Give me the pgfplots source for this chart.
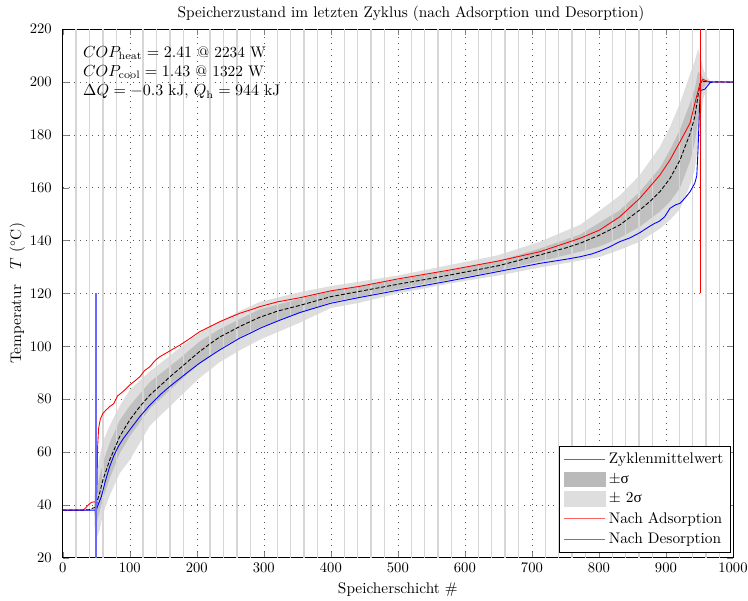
\documentclass[border=0pt]{standalone}
\usepackage{fontspec}
\newfontfamily\grk{Liberation Serif}
\usepackage{pgfplots}
\pgfplotsset{compat=1.18}
\usepgfplotslibrary{fillbetween}
\usepackage{pgfplotstable}
\definecolor{sepgray}{RGB}{214,214,214}
\definecolor{lblue}{RGB}{105,105,255}
\definecolor{lred}{RGB}{255,100,100}
\definecolor{lgrayleg}{RGB}{110,110,110}
\definecolor{band1}{RGB}{192,192,192}
\definecolor{band2}{RGB}{222,222,222}
\pgfplotsset{myarea/.style={legend image code/.code={\fill[#1] (0cm,-0.17cm) rectangle (1cm,0.17cm);}}}
\newcommand{\bigf}{\fontsize{10.5}{12.6}\selectfont}

\pgfplotstableread{
x m
0 38
30 38
40 38.2
45 38.8
48 39
50 39.5
52 42
55 44.5
60 49.5
70 57
85 65.9
100 72.2
115 77.2
130 81.6
145 85
160 88.5
175 91.7
190 95
204 98
220 101
234 103.5
250 105.6
264 107.5
280 109.4
294 111
320 113.3
354 115.5
400 118.8
443 120.8
500 123.5
550 125.7
578 127
650 130.5
712 134.6
750 137.2
772 139
801 142.1
831 145.9
861 151.6
876 154.8
891 158.5
906 163.5
921 170.5
936 180.5
943 186.8
948 195
951 199.5
955 200.3
960 200.1
1000 200
}\meantab

\pgfplotstableread{
x d1lo d1hi d2lo d2hi
47 37 40 33 43
50 33 44 27 50
55 37.5 51 30.5 58.5
60 42.5 56 36.5 64
70 50 63.5 43.5 70
85 59.5 72 52 77.5
100 66 77.5 57 83.5
130 76.5 86.5 70 90.5
175 87 95.5 81 99.5
204 93.6 101.8 88 105
234 99 106.5 94 109.5
264 103.5 110.3 98.5 113.3
294 107.2 114 102.5 116.8
354 112.5 118 109 120.5
400 116.8 120.8 114.5 122.8
443 118.8 122.7 116.5 124.5
500 121.8 125.2 120 126.8
578 125.3 128.7 123.8 130.8
650 128.7 132.3 126.8 134.5
712 132.2 137 129.8 139.6
772 135.8 142.3 132.5 146
801 137.8 146.8 133.8 151.3
831 141 151.5 136.5 157
861 145.3 158.5 139.6 164.8
891 151 167.5 144.5 175.5
906 154.7 174.3 147.8 183
921 160 182 152 192
936 170 192 161 203
943 177 197.5 167 208
948 186 204 176 212.5
952 194.5 203 187 209
956 198 201.5 194 204.5
962 199.5 200.5 198.5 201.5
968 200 200 200 200
1000 200 200 200 200
}\bandtab

\pgfplotstableread{
x y
0 38
30 38
34 38.8
38 40
43 41
49 41.2
51 45
52 62
53.5 69
56 72.5
60 74.7
65 76
70 77.2
76 78.3
82 81.3
88 82.5
93 83.6
100 85.4
108 87
115 88.5
122 90.8
130 92.3
138 94.7
145 96.1
160 98.3
175 100.5
190 103
204 105.5
220 107.5
234 109.3
250 111
264 112.5
280 113.8
294 115
320 116.8
354 118.4
400 121
443 122.7
500 125.5
578 128.9
650 132.3
712 135.8
772 140.9
801 144
831 149
861 156
891 164.8
906 170.5
921 177.4
936 184.5
945 193.8
951 199.5
955 201
960 200.5
965 200
1000 200
}\adstab

\pgfplotstableread{
x y
0 38
50 38
52 39.5
55 41.5
57.7 43.2
63 48.5
70 54.5
76 58.5
82.6 62
90 65
100 68.4
115 73.4
130 77.8
145 81.6
160 84.9
175 87.9
190 90.9
204 93.6
220 96.3
234 98.6
250 101
264 103.1
280 105
294 106.8
320 109.5
354 112.8
400 116.3
443 118.5
500 121.2
578 124.8
650 128.3
712 131.4
750 132.9
772 133.9
790 135
801 136
815 137.5
831 139.6
846 141
861 143
875 145.3
883 146.5
890 147.3
898 149
906 152.2
914 153.5
921 154.1
928 156
936 158.5
943 161.7
946 164.5
948 175
950 190
951.5 196.8
958 197.3
962 198.5
966 199.8
970 200
1000 200
}\destab

\begin{document}
\begin{tikzpicture}
\begin{axis}[
  scale only axis,
  width=459pt, height=362pt,
  xmin=0, xmax=1000, ymin=20, ymax=220,
  xtick={0,100,...,1000},
  ytick={20,40,...,220},
  /pgf/number format/set thousands separator={},
  grid=major,
  major grid style={black!65, dash pattern=on 0.5pt off 3.5pt},
  title={Speicherzustand im letzten Zyklus (nach Adsorption und Desorption)},
  xlabel={Speicherschicht \#},
  ylabel={Temperatur\ \ \ $T$ (${}^\circ$C)},
  title style={yshift=-4pt, xshift=9pt, font=\bigf},
  xlabel style={yshift=-0.5pt, font=\bigf},
  ylabel style={yshift=-3.5pt, font=\bigf},
  yticklabel style={xshift=-4pt},
  legend image code/.code={\draw[#1] (0cm,0cm) -- (1cm,0cm);},
  legend cell align=left,
  legend style={at={(rel axis cs:0.996,0.01)}, anchor=south east, draw=black, fill=white, row sep=1pt, inner sep=2.5pt, font=\bigf},
]
% bands
\addplot[draw=none, name path=s2lo, forget plot] table[x=x, y=d2lo] {\bandtab};
\addplot[draw=none, name path=s2hi, forget plot] table[x=x, y=d2hi] {\bandtab};
\addplot[draw=none, name path=s1lo, forget plot] table[x=x, y=d1lo] {\bandtab};
\addplot[draw=none, name path=s1hi, forget plot] table[x=x, y=d1hi] {\bandtab};
\addplot[band2, forget plot] fill between[of=s2lo and s2hi];
\addplot[band1, forget plot] fill between[of=s1lo and s1hi];
% layer separators
\pgfplotsinvokeforeach{20,40,60,80,120,140,160,180,220,240,260,280,320,340,360,380,420,440,460,480,520,540,560,580,620,640,660,680,720,740,760,780,820,840,860,880,920,940,960,980}{
  \addplot[sepgray, line width=1pt, forget plot] coordinates {(#1,20) (#1,220)};
}
% curves
\addplot[black, line width=0.6pt, dash pattern=on 2.7pt off 1.3pt, forget plot] table[x=x, y=m] {\meantab};
\addplot[red, line width=0.6pt, forget plot] table[x=x, y=y] {\adstab};
\addplot[blue, line width=0.6pt, forget plot] table[x=x, y=y] {\destab};
\addplot[lblue, line width=1.2pt, forget plot] coordinates {(50,20) (50,120)};
\addplot[red, line width=0.8pt, forget plot] coordinates {(952,120) (952,220)};

\node[anchor=north west, align=left, inner sep=0pt, font=\bigf] at (rel axis cs:0.03,0.968)
 {$COP_{\rule{0pt}{5.5pt}\mathrm{heat}} = 2.41$ @ 2234 W\\[0.5pt]
  $COP_{\rule{0pt}{5.5pt}\mathrm{cool}} = 1.43$ @ 1322 W\\[0.5pt]
  $\Delta Q = -0.3$ kJ, $Q_{\rule{0pt}{5.5pt}\mathrm{h}} = 944$ kJ};

% legend
\addlegendimage{lgrayleg, line width=0.7pt}
\addlegendentry{Zyklenmittelwert}
\addlegendimage{myarea=black!27}
\addlegendentry{±{\grk σ}}
\addlegendimage{myarea=black!13}
\addlegendentry{± 2{\grk σ}}
\addlegendimage{lred, line width=0.7pt}
\addlegendentry{Nach Adsorption}
\addlegendimage{lblue, line width=0.7pt}
\addlegendentry{Nach Desorption}
\end{axis}
\pgfresetboundingbox
\path[use as bounding box] ([shift={(-43pt,-29.5pt)}]current axis.south west) rectangle ([shift={(10.3pt,20pt)}]current axis.north east);
\end{tikzpicture}
\end{document}
